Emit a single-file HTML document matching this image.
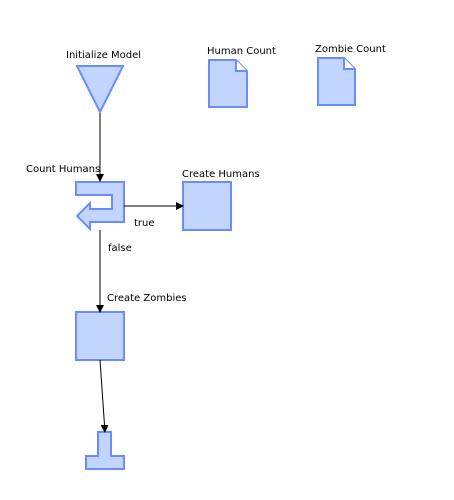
<!DOCTYPE html>
<html><head><style>body{margin:0;background:#fff}svg text{font-family:"DejaVu Sans","Liberation Sans",sans-serif;font-size:10px;fill:#000}</style></head>
<body><svg width="454" height="495" xmlns="http://www.w3.org/2000/svg">
<defs><marker id="a" markerWidth="8" markerHeight="8" refX="7" refY="4" orient="auto" markerUnits="userSpaceOnUse"><path d="M0,0 L8,4 L0,8z" fill="#000"/></marker></defs>
<g fill="#c2d5ff" stroke="#6b8cff" stroke-width="2">
<polygon points="77,66 123,66 100,112"/>
<path d="M209,60 L236,60 L247,71 L247,107 L209,107Z"/>
<path d="M236,60 L236,71 L247,71" fill="#fff"/>
<path d="M318,58 L344,58 L355,69 L355,105 L318,105Z"/>
<path d="M344,58 L344,69 L355,69" fill="#fff"/>
<polygon points="76,182 124,182 124,222 90,222 90,229 77,216 90,203 90,209 112,209 112,195 76,195"/>
<rect x="183" y="182" width="48" height="48"/>
<rect x="76" y="312" width="48" height="48"/>
<polygon points="98,432 111,432 111,456 124,456 124,469 86,469 86,456 98,456"/>
</g>
<g stroke="#000" stroke-width="1" fill="none">
<line x1="100" y1="113" x2="100" y2="181" marker-end="url(#a)"/>
<line x1="124" y1="206" x2="183" y2="206" marker-end="url(#a)"/>
<line x1="100" y1="230" x2="100" y2="312" marker-end="url(#a)"/>
<line x1="100" y1="360" x2="105" y2="432" marker-end="url(#a)"/>
</g>
<text x="66" y="58">Initialize Model</text>
<text x="207" y="54">Human Count</text>
<text x="315" y="52">Zombie Count</text>
<text x="26" y="172">Count Humans</text>
<text x="182" y="177">Create Humans</text>
<text x="134" y="226">true</text>
<text x="108" y="251">false</text>
<text x="107" y="301">Create Zombies</text>
</svg></body></html>
